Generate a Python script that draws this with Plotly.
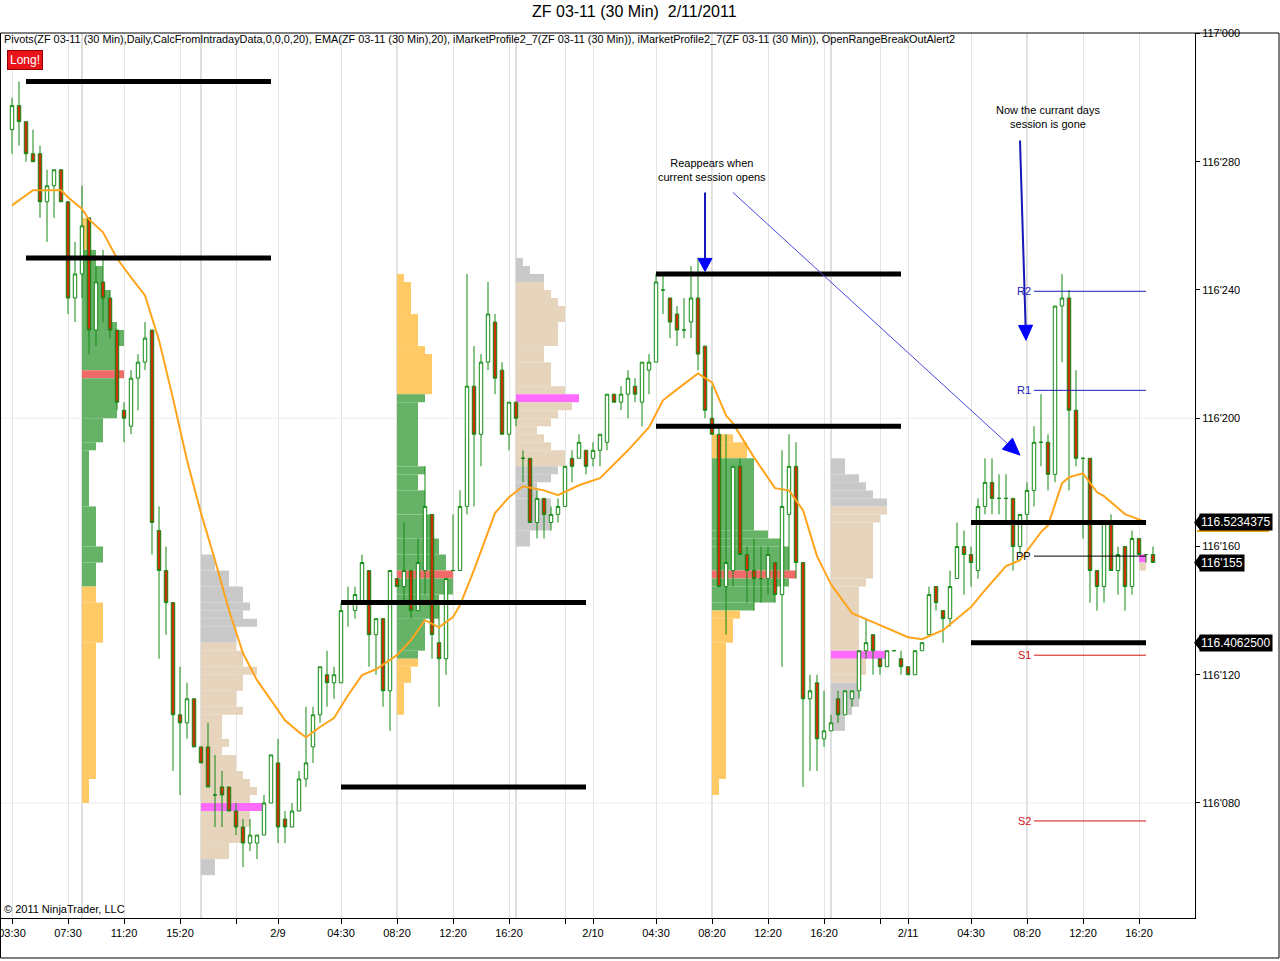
import math
import plotly.graph_objects as go

# ---------------- data (prices in 32nds above 116'000) ----------------
o32 = [29.0,29.75,29.25,28.25,28.25,26.75,27.25,27.75,26.75,23.75,
       24.5,26.25,22.75,24.25,23.75,22.75,20.25,19.75,21.25,21.75,
       22.75,16.5,15.25,14.25,10.75,10.5,11.25,9.75,9.75,8.25,
       8.5,8.5,7.75,7.25,6.75,6.75,7.0,8.0,9.25,7.5,
       7.25,7.75,8.75,9.75,10.75,12.0,11.75,11.75,14.25,14.0,
       14.25,15.25,13.25,13.75,11.5,15.0,14.75,15.25,14.0,15.25,
       17.0,13.0,12.5,15.25,15.25,17.25,21.0,19.5,21.75,23.0,
       21.5,19.5,20.5,18.75,18.75,16.75,17.5,16.75,17.0,17.25,
       18.75,18.75,19.0,18.75,19.0,19.25,20.75,20.5,20.75,21.0,
       20.5,21.5,21.75,24.0,23.75,23.25,22.75,23.0,23.75,22.25,
       20.0,19.5,14.75,15.25,18.5,15.75,15.25,15.0,15.0,15.5,
       14.5,17.0,18.5,15.5,11.25,11.75,10.0,10.25,11.25,10.75,
       11.25,11.5,12.75,13.25,12.5,12.25,12.75,12.5,12.25,12.0,
       12.75,13.25,14.75,14.0,13.75,15.0,16.0,15.75,15.25,17.25,
       18.0,17.5,17.5,17.5,16.0,17.0,17.75,19.25,19.25,18.25,
       23.5,23.75,20.25,18.75,18.75,15.25,14.75,16.75,15.25,16.0,
       14.75,16.25,15.75,15.75]
h32 = [30.0,30.5,29.25,29.0,28.5,27.75,27.75,27.75,26.75,25.5,
       27.25,26.25,24.75,25.25,24.0,22.75,20.5,21.5,22.0,23.0,
       22.75,17.25,16.0,14.25,12.25,11.75,11.25,9.75,10.5,9.5,
       9.0,8.5,8.0,7.5,7.5,7.0,8.25,9.5,10.0,7.75,
       8.0,9.0,11.0,11.0,12.25,12.75,12.25,14.25,14.75,14.75,
       15.75,15.25,13.75,13.75,15.25,15.0,16.75,15.25,16.25,18.5,
       17.0,14.25,15.0,17.0,17.75,24.5,22.25,22.0,24.25,23.25,
       21.75,20.5,20.5,19.0,18.75,17.75,17.5,17.25,17.5,18.5,
       19.0,19.5,19.0,19.25,19.5,20.75,20.75,21.0,21.5,21.25,
       21.75,22.0,24.5,24.5,23.75,23.5,23.75,24.75,25.0,22.25,
       21.0,19.75,19.5,18.5,18.75,16.0,16.25,16.0,16.0,15.5,
       19.0,19.5,19.25,15.5,12.0,12.0,11.5,10.75,11.5,11.5,
       11.5,12.75,13.75,13.25,12.5,12.75,12.75,12.75,12.25,12.75,
       13.0,14.75,14.75,14.0,15.25,16.75,16.5,16.0,17.5,18.75,
       18.75,18.25,18.25,17.5,17.0,18.0,19.75,20.75,19.5,23.5,
       24.5,24.0,21.5,18.75,18.75,15.25,16.75,17.0,16.0,16.0,
       16.5,16.25,15.75,16.0]
l32 = [28.25,28.5,28.0,28.0,26.25,25.5,26.25,26.75,23.25,23.0,
       23.75,22.0,22.25,23.0,22.5,20.25,19.25,19.5,20.25,21.5,
       15.75,12.5,13.25,9.0,8.25,10.0,9.75,9.25,8.5,7.25,
       7.25,7.75,7.0,6.0,6.5,6.25,7.0,8.0,6.75,6.75,
       7.25,7.75,8.5,9.25,10.5,11.0,11.25,11.75,13.5,13.75,
       14.25,12.25,12.0,11.0,10.25,14.75,14.25,13.75,14.0,14.5,
       12.5,11.0,12.0,15.25,15.25,17.0,17.25,18.5,21.5,20.75,
       19.5,19.0,19.75,18.0,16.75,16.25,16.25,16.5,16.75,17.25,
       18.0,18.75,18.25,18.5,18.5,19.0,20.5,20.25,20.0,20.5,
       19.75,20.75,21.75,23.25,22.5,22.25,22.5,22.5,21.5,20.0,
       19.5,14.75,13.25,14.75,15.75,14.25,14.0,14.25,14.5,14.25,
       12.25,15.25,15.0,8.5,9.0,9.0,9.75,10.25,10.5,10.75,
       11.0,11.25,12.5,12.0,12.0,12.25,12.75,12.0,12.0,12.0,
       12.75,13.25,14.0,13.0,13.5,15.0,14.5,14.75,15.0,17.0,
       17.0,17.0,16.75,15.25,15.75,16.75,17.25,18.5,17.75,18.0,
       21.75,17.75,18.5,16.25,14.25,14.0,14.25,15.25,14.5,14.0,
       14.5,15.75,15.5,15.5]
c32 = [29.75,29.25,28.25,28.0,26.75,27.25,27.75,26.75,23.75,24.5,
       26.0,22.75,24.25,23.75,22.75,20.5,20.0,21.25,21.75,22.5,
       16.75,15.25,14.25,10.75,10.5,11.25,9.75,9.25,8.5,8.25,
       8.25,7.75,7.25,6.75,7.0,7.0,8.0,9.5,7.25,7.25,
       7.75,8.75,9.25,10.75,12.25,11.75,12.0,14.0,14.25,14.5,
       15.5,13.25,13.75,11.5,15.25,14.75,15.25,14.0,15.5,17.25,
       13.25,12.5,15.0,15.25,17.25,21.0,19.5,21.75,23.25,21.25,
       19.5,20.5,20.0,18.75,16.75,17.5,17.0,17.0,17.25,18.5,
       18.5,19.25,18.5,19.0,19.5,20.75,20.5,20.75,21.25,20.75,
       21.75,21.75,24.25,24.0,23.0,22.75,22.75,23.75,22.0,20.25,
       19.5,14.75,15.5,18.5,15.75,15.25,15.0,15.0,15.75,14.5,
       17.25,18.5,15.5,11.25,11.5,10.0,10.25,10.5,10.75,11.5,
       11.5,12.75,13.0,12.75,12.25,12.75,12.75,12.25,12.0,12.75,
       13.0,14.5,14.25,13.75,14.75,16.0,15.75,15.5,17.25,18.0,
       17.5,17.5,17.5,16.0,17.0,17.75,19.25,19.25,18.25,23.5,
       23.75,20.25,18.75,18.75,15.25,14.75,16.75,15.25,15.75,14.75,
       16.25,15.75,15.75,15.5]

ema_bar = [0,3,7,8,10,11,13,15,17,19,21,23,25,27,29,31,33,35,37,39,41,42,44,46,48,
           50,52,55,57,59,61,63,64,66,69,71,73,76,78,81,84,88,91,93,95,98,100,102,103,106,
           109,111,113,115,117,120,123,126,128,130,133,137,139,142,144,147,148,150,151,153,
           155,156,159,162]
ema_val = [26.64,27.11,27.11,26.89,26.53,26.20,25.80,24.99,24.39,23.83,22.43,20.62,18.69,17.04,15.57,
           14.01,12.67,11.83,11.21,10.58,10.21,10.05,10.37,10.65,11.36,11.99,12.17,12.61,13.08,13.70,
           13.48,13.80,14.17,15.26,17.04,17.54,17.88,17.75,17.60,17.91,18.13,19.00,19.72,20.56,20.90,
           21.40,21.12,20.09,19.84,18.78,17.82,17.75,17.13,15.70,14.82,13.92,13.64,13.36,13.17,13.11,
           13.39,14.11,14.64,15.39,15.57,16.45,16.66,17.97,18.16,18.28,17.69,17.57,17.01,16.76]

x_tick_bars = [0,8,16,24,32,38,47,55,63,71,79,83,92,100,108,116,124,128,137,145,153,161]
x_tick_text = ["03:30","07:30","11:20","15:20","","2/9","04:30","08:20","12:20","16:20","",
               "2/10","04:30","08:20","12:20","16:20","","2/11","04:30","08:20","12:20","16:20"]
y_tick_32 = [8,12,16,20,24,28,32]
y_tick_text = ["116'080","116'120","116'160","116'200","116'240","116'280","117'000"]
session_bars = [10,27,55,72,100,117,145]
hgrid_32 = [20,8]

orb_start = [2,2,47,47,92,92,137,137]
orb_end = [37,37,82,82,127,127,162,162]
orb_level = [30.5,25.0,14.25,8.5,24.5,19.75,16.75,13.0]

piv_names = ["R2","R1","PP","S1","S2"]
piv_vals = [23.96,20.87,15.70,12.61,7.44]
piv_colors = ["#1c1cb4","#1c1cb4","#000000","#d01010","#d01010"]
piv_start, piv_end = 146, 162

# market profiles: segments (lo, hi in 32nds; length in bars; zone o/v/p)
profA_lo = [25.25,24.75,24.0,23.0,22.75,22.25,21.5,21.25,20.0,19.25,19.0,17.25,16.0,15.5,14.75,14.25,13.0,8.75,8.0]
profA_hi = [26.25,25.25,24.75,24.0,23.0,22.75,22.25,21.5,21.25,20.0,19.25,19.0,17.25,16.0,15.5,14.75,14.25,13.0,8.75]
profA_len = [1,2,3,4,5,6,5,6,5,3,2,1,2,3,2,2,3,2,1]
profA_zone = "ovvvvvvpvvvvvvvoooo"

profB_lo = [15.25,14.75,14.25,14.0,13.75,13.5,13.0,12.75,12.25,12.0,11.5,11.0,10.75,10.0,9.75,9.5,9.0,8.75,8.5,8.25,8.0,7.75,7.25,6.75,6.25,5.75]
profB_hi = [15.75,15.25,14.75,14.25,14.0,13.75,13.5,13.0,12.75,12.25,12.0,11.5,11.0,10.75,10.0,9.75,9.5,9.0,8.75,8.5,8.25,8.0,7.75,7.25,6.75,6.25]
profB_len = [2,4,6,7,6,8,5,5,6,8,6,5,6,3,4,3,5,6,7,8,7,9,7,6,4,2]
profB_zone = "ooooooovvvvvvvvvvvvvvpvvvo"

profC_lo = [24.25,23.25,22.25,22.0,20.75,20.5,18.5,18.25,17.75,17.0,16.25,15.75,15.25,15.0,14.5,13.75,12.75,12.5,12.25,11.75,10.75]
profC_hi = [24.5,24.25,23.25,22.25,22.0,20.75,20.5,18.5,18.25,17.75,17.0,16.25,15.75,15.25,15.0,14.5,13.75,12.75,12.5,12.25,11.75]
profC_len = [1,2,3,4,5,4,3,4,3,4,5,6,7,8,8,6,4,3,3,2,1]
profC_zone = "ooooovvvvvvvvpvvvvooo"

profD_lo = [24.75,24.5,24.25,24.0,23.75,23.5,23.0,22.25,21.75,21.0,20.75,20.5,20.25,20.0,19.75,19.5,19.25,19.0,18.5,18.25,18.0,17.5,16.5,16.0]
profD_hi = [25.0,24.75,24.5,24.25,24.0,23.75,23.5,23.0,22.25,21.75,21.0,20.75,20.5,20.25,20.0,19.75,19.5,19.25,19.0,18.5,18.25,18.0,17.5,16.5]
profD_len = [1,2,4,4,5,6,7,6,4,5,7,9,8,6,5,3,4,5,7,6,5,3,5,2]
profD_zone = "ooovvvvvvvvpvvvvvvvooooo"

profE_lo = [19.25,18.75,16.5,16.25,16.0,15.25,15.0,14.75,14.25,14.0,13.75,13.0,8.75,8.25]
profE_hi = [19.5,19.25,18.75,16.5,16.25,16.0,15.25,15.0,14.75,14.25,14.0,13.75,13.0,8.75]
profE_len = [3,5,6,8,10,11,12,11,9,6,4,3,2,1]
profE_zone = "oovvvvpvvvoooo"

profF_lo = [18.25,18.0,17.75,17.5,17.25,17.0,16.75,15.0,14.75,12.75,12.5,12.0,11.75,11.0,10.75,10.25]
profF_hi = [18.75,18.25,18.0,17.75,17.5,17.25,17.0,16.75,15.0,14.75,12.75,12.5,12.0,11.75,11.0,10.75]
profF_len = [2,4,5,6,8,8,7,6,5,4,8,5,4,4,3,2]
profF_zone = "ooooovvvvvpvvooo"

profG_lo = [15.5,15.25]
profG_hi = [15.75,15.5]
profG_len = [1,1]
profG_zone = "pv"

profiles = [(10,"rth",profA_lo,profA_hi,profA_len,profA_zone),
            (27,"eth",profB_lo,profB_hi,profB_len,profB_zone),
            (55,"rth",profC_lo,profC_hi,profC_len,profC_zone),
            (72,"eth",profD_lo,profD_hi,profD_len,profD_zone),
            (100,"rth",profE_lo,profE_hi,profE_len,profE_zone),
            (117,"eth",profF_lo,profF_hi,profF_len,profF_zone),
            (161,"eth",profG_lo,profG_hi,profG_len,profG_zone)]

tag_vals = [16.75,15.5,13.0]
tag_text = ["116.5234375","116'155","116.4062500"]

# ---------------- styling / geometry ----------------
W, H = 1280, 961
ML, MR, MT, MB = 0, 85, 33, 43
PW, PH = W - ML - MR, H - MT - MB
X_LO, X_HI = -12/7, 169.0
Y_LO32, Y_HI32 = 4.413, 32.015
PXB = PW / (X_HI - X_LO)
PXP = PH / (Y_HI32 - Y_LO32)
FONT = "Liberation Sans, Arial, sans-serif"

def pr(v):
    return 116.0 + v / 32.0

def paper_x(xpx):
    return (xpx - ML) / PW

def paper_y(ypx):
    return (MT + PH - ypx) / PH

palette = {"rth": {"o": "#FFC966", "v": "#66B266", "p": "#F26B6B"},
           "eth": {"o": "#C9C9C9", "v": "#E6D4BD", "p": "#FF6BFF"}}

fig = go.Figure()

for start, kind, lo, hi, ln, zone in profiles:
    fig.add_trace(go.Bar(
        orientation="h",
        y=[pr((a + b) / 2) for a, b in zip(lo, hi)],
        x=ln,
        base=[start] * len(ln),
        width=[(b - a) / 32.0 for a, b in zip(lo, hi)],
        marker=dict(color=[palette[kind][z] for z in zone], line=dict(width=0)),
        hoverinfo="skip", showlegend=False))

GREEN = "#138A13"
fig.add_trace(go.Candlestick(
    x=list(range(len(o32))),
    open=[pr(v) for v in o32], high=[pr(v) for v in h32],
    low=[pr(v) for v in l32], close=[pr(v) for v in c32],
    increasing=dict(line=dict(color=GREEN, width=1), fillcolor="white"),
    decreasing=dict(line=dict(color=GREEN, width=1), fillcolor="#C8320A"),
    whiskerwidth=0, hoverinfo="skip", showlegend=False))

fig.add_trace(go.Scatter(x=ema_bar, y=[pr(v) for v in ema_val], mode="lines",
                         line=dict(color="#FFA41B", width=2), hoverinfo="skip", showlegend=False))

ox, oy = [], []
for s, e, lv in zip(orb_start, orb_end, orb_level):
    ox += [s, e, None]
    oy += [pr(lv), pr(lv), None]
fig.add_trace(go.Scatter(x=ox, y=oy, mode="lines", line=dict(color="black", width=5),
                         hoverinfo="skip", showlegend=False))

annotations = []
for name, v, col in zip(piv_names, piv_vals, piv_colors):
    fig.add_trace(go.Scatter(x=[piv_start, piv_end], y=[pr(v), pr(v)], mode="lines",
                             line=dict(color=col, width=1), hoverinfo="skip", showlegend=False))
    annotations.append(dict(x=piv_start, y=pr(v), xref="x", yref="y", text=name, showarrow=False,
                            xanchor="right", yanchor="middle", xshift=-1,
                            font=dict(color=col, size=11, family=FONT)))

shapes = []
for b in session_bars:
    shapes.append(dict(type="line", xref="x", yref="paper", x0=b, x1=b, y0=0, y1=1,
                       line=dict(color="#BEBEBE", width=1), layer="below"))
for v in hgrid_32:
    shapes.append(dict(type="line", xref="paper", yref="y", x0=0, x1=1, y0=pr(v), y1=pr(v),
                       line=dict(color="#EDEDED", width=1), layer="below"))

def arrow(b0, v0, b1, v1, width, color, head_len, head_w, head_color):
    dx = (b1 - b0) * PXB
    dy = -(v1 - v0) * PXP
    L = math.hypot(dx, dy)
    ux, uy = dx / L, dy / L
    bx, by = -ux * head_len, -uy * head_len
    nx, ny = -uy * head_w / 2, ux * head_w / 2
    def tod(px_, py_):
        return b1 + px_ / PXB, v1 - py_ / PXP
    base_b, base_v = tod(bx, by)
    shapes.append(dict(type="line", xref="x", yref="y", x0=b0, y0=pr(v0), x1=base_b, y1=pr(base_v),
                       line=dict(color=color, width=width)))
    p1 = tod(bx + nx, by + ny)
    p2 = tod(bx - nx, by - ny)
    path = "M {},{} L {},{} L {},{} Z".format(b1, pr(v1), p1[0], pr(p1[1]), p2[0], pr(p2[1]))
    shapes.append(dict(type="path", xref="x", yref="y", path=path,
                       fillcolor=head_color, line=dict(color=head_color, width=1)))

arrow(99.0, 27.04, 99.0, 24.58, 2, "#1818B8", 13, 14, "#0000FF")
arrow(103.0, 27.04, 144.0, 18.85, 1, "#4848E0", 17, 15, "#0000FF")
arrow(144.0, 28.66, 144.86, 22.43, 2, "#1818B8", 15, 14, "#0000FF")

annotations.append(dict(x=100, y=pr(27.75), xref="x", yref="y", showarrow=False,
                        xanchor="center", yanchor="middle",
                        text="Reappears when<br>current session opens", align="center",
                        font=dict(size=11, family=FONT, color="black")))
annotations.append(dict(x=148, y=pr(29.41), xref="x", yref="y", showarrow=False,
                        xanchor="center", yanchor="middle",
                        text="Now the currant days<br>session is gone", align="center",
                        font=dict(size=11, family=FONT, color="black")))

# price tags on the right axis
for i, (v, t) in enumerate(zip(tag_vals, tag_text)):
    annotations.append(dict(x=paper_x(1199), y=pr(v), xref="paper", yref="y", xanchor="left",
                            yanchor="middle", text=t, showarrow=False, bgcolor="black", borderpad=1,
                            font=dict(color="white", size=12, family=FONT)))
    hh = 7.5 / PXP
    shapes.append(dict(type="path", xref="paper", yref="y",
                       path="M {},{} L {},{} L {},{} Z".format(paper_x(1194), pr(v),
                                                               paper_x(1200), pr(v + hh),
                                                               paper_x(1200), pr(v - hh)),
                       fillcolor="black", line=dict(color="black", width=0)))
    if i == 0:
        uv = v - 8.5 / PXP
        shapes.append(dict(type="line", xref="paper", yref="y", x0=paper_x(1197), x1=paper_x(1269),
                           y0=pr(uv), y1=pr(uv), line=dict(color="#E8A317", width=2)))

# outer frame
shapes.append(dict(type="rect", xref="paper", yref="paper", x0=paper_x(0.5), x1=paper_x(1279),
                   y0=paper_y(958), y1=1, line=dict(color="black", width=1)))

annotations += [
    dict(x=paper_x(634), y=paper_y(12), xref="paper", yref="paper", showarrow=False,
         xanchor="center", yanchor="middle",
         text="ZF 03-11 (30 Min)\u00a0 2/11/2011", font=dict(size=16, family=FONT, color="black")),
    dict(x=paper_x(2), y=paper_y(39), xref="paper", yref="paper", showarrow=False,
         xanchor="left", yanchor="middle",
         text="Pivots(ZF 03-11 (30 Min),Daily,CalcFromIntradayData,0,0,0,20), EMA(ZF 03-11 (30 Min),20), "
              "iMarketProfile2_7(ZF 03-11 (30 Min)), iMarketProfile2_7(ZF 03-11 (30 Min)), OpenRangeBreakOutAlert2",
         font=dict(size=10.9, family=FONT, color="black")),
    dict(x=paper_x(7), y=paper_y(60.5), xref="paper", yref="paper", showarrow=False,
         xanchor="left", yanchor="middle",
         text="Long!", bgcolor="#E8141A", bordercolor="#900000", borderwidth=1, borderpad=2,
         font=dict(size=12, family=FONT, color="white")),
    dict(x=paper_x(2), y=paper_y(909), xref="paper", yref="paper", showarrow=False,
         xanchor="left", yanchor="middle",
         text="\u00a9 2011 NinjaTrader, LLC", font=dict(size=11, family=FONT, color="black")),
]

fig.update_layout(
    width=W, height=H, margin=dict(l=ML, r=MR, t=MT, b=MB, pad=0, autoexpand=False),
    paper_bgcolor="white", plot_bgcolor="white", barmode="overlay", showlegend=False,
    hovermode=False, font=dict(family=FONT, size=11, color="black"),
    shapes=shapes, annotations=annotations)
fig.update_xaxes(range=[X_LO, X_HI], tickmode="array", tickvals=x_tick_bars, ticktext=x_tick_text,
                 ticks="outside", ticklen=5, tickcolor="black", tickangle=0,
                 ticklabeloverflow="allow", automargin=False,
                 showgrid=True, gridcolor="#E4E4E4", gridwidth=1, zeroline=False,
                 showline=True, linecolor="black", linewidth=1,
                 rangeslider=dict(visible=False), tickfont=dict(size=11, family=FONT))
fig.update_yaxes(range=[pr(Y_LO32), pr(Y_HI32)], side="right", tickmode="array",
                 tickvals=[pr(v) for v in y_tick_32], ticktext=y_tick_text,
                 ticks="outside", ticklen=4, tickcolor="black", showgrid=False, zeroline=False,
                 ticklabeloverflow="allow", automargin=False,
                 showline=True, linecolor="black", linewidth=1, tickfont=dict(size=11, family=FONT))

fig.write_html("out.html", config={"displayModeBar": False},
               post_script="document.body.style.margin='0px';")
